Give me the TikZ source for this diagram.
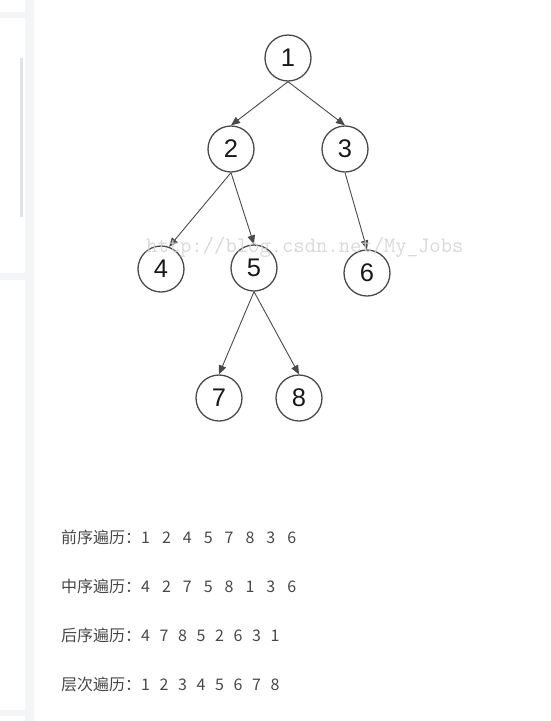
\documentclass[tikz,border=0pt]{standalone}
\usepackage{fontspec}
\setmainfont{Liberation Sans}
\newfontfamily\cjk{Noto Sans CJK SC}
\usetikzlibrary{arrows.meta}
\definecolor{mside}{HTML}{F4F5F7}
\definecolor{mbar}{HTML}{E2E3E6}
\definecolor{medge}{HTML}{4A4A4A}
\definecolor{mtext}{HTML}{484848}
\definecolor{mmark}{HTML}{D2D2D2}
\tikzset{tnode/.style = {draw = medge, line width = 1.3pt, circle, minimum size = 46pt, inner sep = 0,
    text = black!90, font = \fontsize{25.5}{25.5}\selectfont}}
\tikzset{tedge/.style = {medge, line width = 0.9pt, -{Triangle[length = 9pt, width = 7.5pt]}}}
\tikzset{trav/.style = {anchor = base west, inner sep = 0, text = mtext, font = \cjk\fontsize{16}{16}\selectfont}}
\newcommand{\wgap}{\hspace{12pt}}
\newcommand{\ngap}{\hspace{9.6pt}}

\begin{document}
\begin{tikzpicture}[x = 1pt, y = -1pt]
      \useasboundingbox (0, 0) rectangle (550, 721);

      % side column of the page
      \fill [mside] (0, 0) rectangle (34, 721);
      \fill [white] (0, 0) rectangle (25, 12);
      \fill [white] (0, 18) rectangle (25, 273);
      \fill [white] (0, 280) rectangle (25, 710);
      \fill [white] (0, 716) rectangle (25, 721);
      \fill [mbar] (20, 58) rectangle (23, 217);

      % the tree
      \node [tnode] (n1) at (288, 58) {1};
      \node [tnode] (n2) at (231, 149) {2};
      \node [tnode] (n3) at (345, 149) {3};
      \node [tnode] (n4) at (161, 269) {4};
      \node [tnode] (n5) at (254, 268) {5};
      \node [tnode] (n6) at (367, 273) {6};
      \node [tnode] (n7) at (219, 398) {7};
      \node [tnode] (n8) at (299, 398) {8};

      \draw [tedge] (n1.south) -- (n2.north);
      \draw [tedge] (n1.south) -- (n3.north);
      \draw [tedge] (n2.south) -- (n4.70);
      \draw [tedge] (n2.south) -- (n5.north);
      \draw [tedge] (n3.south) -- (n6.north);
      \draw [tedge] (n5.south) -- (n7.north);
      \draw [tedge] (n5.south) -- (n8.north);

      \node [anchor = base west, inner sep = 0, text = mmark, text opacity = 0.85,
        font = \ttfamily\fontsize{22}{22}\selectfont] (mark) at (146, 252) {http://blog.csdn.net/My\_Jobs};

      % traversals
      \node [trav] (pre) at (61, 543) {前序遍历：1\wgap 2\wgap 4\wgap 5\wgap 7\wgap 8\wgap 3\wgap 6};
      \node [trav] (in) at (61, 592) {中序遍历：4\wgap 2\wgap 7\wgap 5\wgap 8\wgap 1\wgap 3\wgap 6};
      \node [trav] (post) at (61, 641) {后序遍历：4\ngap 7\ngap 8\ngap 5\ngap 2\ngap 6\ngap 3\ngap 1};
      \node [trav] (level) at (61, 690) {层次遍历：1\ngap 2\ngap 3\ngap 4\ngap 5\ngap 6\ngap 7\ngap 8};
    \end{tikzpicture}
\end{document}
